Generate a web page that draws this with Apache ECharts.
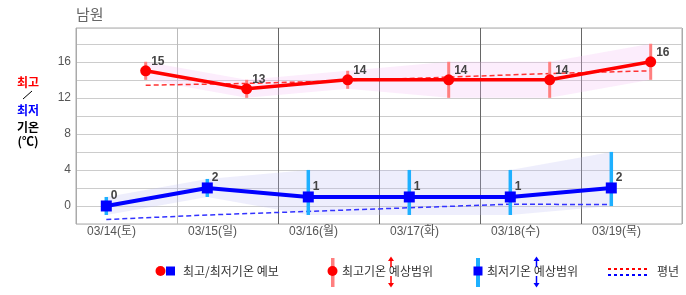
<!DOCTYPE html>
<html><head><meta charset="utf-8">
<script src="https://cdn.jsdelivr.net/npm/echarts@6/dist/echarts.min.js"></script>
<style>html,body{margin:0;padding:0;background:#fff}#c{width:686px;height:295px}</style>
</head><body><div id="c"></div>
<script>
const categories = ['03/14(토)','03/15(일)','03/16(월)','03/17(화)','03/18(수)','03/19(목)'];
const highTemp = [15,13,14,14,14,16];
const lowTemp = [0,2,1,1,1,2];
const highRangeMin = [14,12,13,12,12,14];
const highRangeMax = [16,14,15,16,16,18];
const lowRangeMin = [-1,1,-1,-1,-1,0];
const lowRangeMax = [1,3,4,4,4,6];
const highNormal = [13.4,13.6,13.9,14.3,14.7,15.0];
const lowNormal = [-1.5,-1.0,-0.6,-0.2,0.2,0.15];
const yTickLabels = [0,4,8,12,16];

const LOW_POS = 0.3, HIGH_POS = 0.69;
const n = categories.length;
const LAT = 'Liberation Sans, Arial, Noto Sans CJK KR, sans-serif';
const KR = 'Noto Sans CJK KR, Liberation Sans, sans-serif';

function bandRender(lo, hi, pos, color) {
  return function (params, api) {
    const i = params.dataIndex;
    if (i >= n - 1) return null;
    const pts = [
      api.coord([i + pos, hi[i]]), api.coord([i + 1 + pos, hi[i + 1]]),
      api.coord([i + 1 + pos, lo[i + 1]]), api.coord([i + pos, lo[i]])
    ];
    return { type: 'polygon', shape: { points: pts }, style: { fill: color } };
  };
}
function barRender(color, w) {
  return function (params, api) {
    const x = api.value(0);
    const top = api.coord([x, api.value(2)]);
    const bot = api.coord([x, api.value(1)]);
    return { type: 'rect', shape: { x: top[0] - w / 2, y: top[1], width: w, height: bot[1] - top[1] }, style: { fill: color } };
  };
}
const rangeData = (lo, hi, pos) => categories.map((c, i) => [i + pos, lo[i], hi[i]]);
const lineData = (arr, pos) => arr.map((v, i) => [i + pos, v]);

const chart = echarts.init(document.getElementById('c'), null, { renderer: 'canvas' });
const legendY = 271;
chart.setOption({
  animation: false,
  grid: { left: 76, right: 4, top: 28, bottom: 71, show: true, borderColor: '#aaa', borderWidth: 1 },
  xAxis: {
    type: 'value', min: 0, max: 6, interval: 1,
    axisLine: { show: false }, axisTick: { show: false },
    axisLabel: {
      formatter: v => categories[v] || '', align: 'left', padding: [0, 0, 0, 11],
      color: '#555', fontSize: 12, fontFamily: LAT, margin: 2, showMaxLabel: false
    },
    splitLine: { show: true, lineStyle: { color: ['#aaa', '#bbb', '#666', '#666', '#666', '#666', '#aaa'], width: 1 } }
  },
  yAxis: {
    type: 'value', min: -2, max: 19.75, interval: 2,
    axisLine: { show: false }, axisTick: { show: false },
    axisLabel: { formatter: v => yTickLabels.includes(v) ? String(v) : '', color: '#555', fontSize: 12, fontFamily: LAT, margin: 5 },
    splitLine: { show: true, lineStyle: { color: '#ccc', width: 1 } }
  },
  series: [
    { type: 'custom', z: 1, renderItem: bandRender(highRangeMin, highRangeMax, HIGH_POS, 'rgba(245,190,245,0.28)'), data: rangeData(highRangeMin, highRangeMax, HIGH_POS), silent: true },
    { type: 'custom', z: 1, renderItem: bandRender(lowRangeMin, lowRangeMax, LOW_POS, 'rgba(190,190,245,0.26)'), data: rangeData(lowRangeMin, lowRangeMax, LOW_POS), silent: true },
    { type: 'line', z: 2, data: lineData(highNormal, HIGH_POS), symbol: 'none', lineStyle: { color: '#ff3333', width: 1.5, type: [5, 3] } },
    { type: 'line', z: 2, data: lineData(lowNormal, LOW_POS), symbol: 'none', lineStyle: { color: '#3333ff', width: 1.5, type: [5, 3] } },
    { type: 'custom', z: 3, renderItem: barRender('#ff7f7f', 3), data: rangeData(highRangeMin, highRangeMax, HIGH_POS) },
    { type: 'custom', z: 3, renderItem: barRender('#1eb0ff', 3.5), data: rangeData(lowRangeMin, lowRangeMax, LOW_POS) },
    {
      type: 'line', z: 5, data: lineData(highTemp, HIGH_POS), symbol: 'circle', symbolSize: 11,
      itemStyle: { color: '#ff0000' }, lineStyle: { color: '#ff0000', width: 3.5 },
      label: { show: true, position: 'right', offset: [-5, -9], formatter: p => p.value[1], color: '#444', fontWeight: 'bold', fontSize: 12, fontFamily: LAT }
    },
    {
      type: 'line', z: 5, data: lineData(lowTemp, LOW_POS), symbol: 'rect', symbolSize: 11,
      itemStyle: { color: '#0000ff' }, lineStyle: { color: '#0000ff', width: 4 },
      label: { show: true, position: 'right', offset: [-6, -10], formatter: p => p.value[1], color: '#444', fontWeight: 'bold', fontSize: 12, fontFamily: LAT }
    }
  ],
  graphic: [
    { type: 'text', left: 76, top: 7, style: { text: '남원', fill: '#666', font: '15px ' + KR } },
    { type: 'text', x: 28, y: 82, style: { text: '최고', fill: '#ff0000', font: 'bold 12px ' + KR, align: 'center', verticalAlign: 'middle' } },
    { type: 'line', shape: { x1: 23, y1: 99, x2: 32, y2: 91 }, style: { stroke: '#000', lineWidth: 1 } },
    { type: 'text', x: 28, y: 110, style: { text: '최저', fill: '#0000ff', font: 'bold 12px ' + KR, align: 'center', verticalAlign: 'middle' } },
    { type: 'text', x: 28, y: 127, style: { text: '기온', fill: '#000', font: 'bold 12px ' + KR, align: 'center', verticalAlign: 'middle' } },
    { type: 'text', x: 28, y: 141, style: { text: '(℃)', fill: '#000', font: 'bold 12px ' + KR, align: 'center', verticalAlign: 'middle' } },
    // legend 1
    { type: 'circle', shape: { cx: 160.5, cy: legendY, r: 5 }, style: { fill: '#ff0000' } },
    { type: 'rect', shape: { x: 166, y: legendY - 4.5, width: 9, height: 9 }, style: { fill: '#0000ff' } },
    { type: 'text', x: 183, y: legendY, style: { text: '최고/최저기온 예보', fill: '#333', font: '12px ' + KR, verticalAlign: 'middle' } },
    // legend 2
    { type: 'rect', shape: { x: 331, y: 258, width: 3.5, height: 29 }, style: { fill: '#ff7f7f' } },
    { type: 'circle', shape: { cx: 332.5, cy: legendY, r: 5 }, style: { fill: '#ff0000' } },
    { type: 'text', x: 342, y: legendY, style: { text: '최고기온 예상범위', fill: '#333', font: '12px ' + KR, verticalAlign: 'middle' } },
    { type: 'line', shape: { x1: 391, y1: 259, x2: 391, y2: 267 }, style: { stroke: '#ff0000', lineWidth: 1.5 } },
    { type: 'polygon', shape: { points: [[388, 261], [394, 261], [391, 256.5]] }, style: { fill: '#ff0000' } },
    { type: 'line', shape: { x1: 391, y1: 276, x2: 391, y2: 284 }, style: { stroke: '#ff0000', lineWidth: 1.5 } },
    { type: 'polygon', shape: { points: [[388, 283], [394, 283], [391, 287.5]] }, style: { fill: '#ff0000' } },
    // legend 3
    { type: 'rect', shape: { x: 476, y: 258, width: 4, height: 29 }, style: { fill: '#1eb0ff' } },
    { type: 'rect', shape: { x: 473.5, y: legendY - 4.5, width: 9, height: 9 }, style: { fill: '#0000ff' } },
    { type: 'text', x: 487, y: legendY, style: { text: '최저기온 예상범위', fill: '#333', font: '12px ' + KR, verticalAlign: 'middle' } },
    { type: 'line', shape: { x1: 536.5, y1: 259, x2: 536.5, y2: 267 }, style: { stroke: '#0000ff', lineWidth: 1.5 } },
    { type: 'polygon', shape: { points: [[533.5, 261], [539.5, 261], [536.5, 256.5]] }, style: { fill: '#0000ff' } },
    { type: 'line', shape: { x1: 536.5, y1: 276, x2: 536.5, y2: 284 }, style: { stroke: '#0000ff', lineWidth: 1.5 } },
    { type: 'polygon', shape: { points: [[533.5, 283], [539.5, 283], [536.5, 287.5]] }, style: { fill: '#0000ff' } },
    // legend 4
    { type: 'line', shape: { x1: 608, y1: 269, x2: 647, y2: 269 }, style: { stroke: '#ff0000', lineWidth: 2, lineDash: [3, 3] } },
    { type: 'line', shape: { x1: 608, y1: 275, x2: 647, y2: 275 }, style: { stroke: '#0000ff', lineWidth: 2, lineDash: [3, 3] } },
    { type: 'text', x: 657, y: legendY, style: { text: '평년', fill: '#333', font: '12px ' + KR, verticalAlign: 'middle' } }
  ]
});
</script>
</body></html>
